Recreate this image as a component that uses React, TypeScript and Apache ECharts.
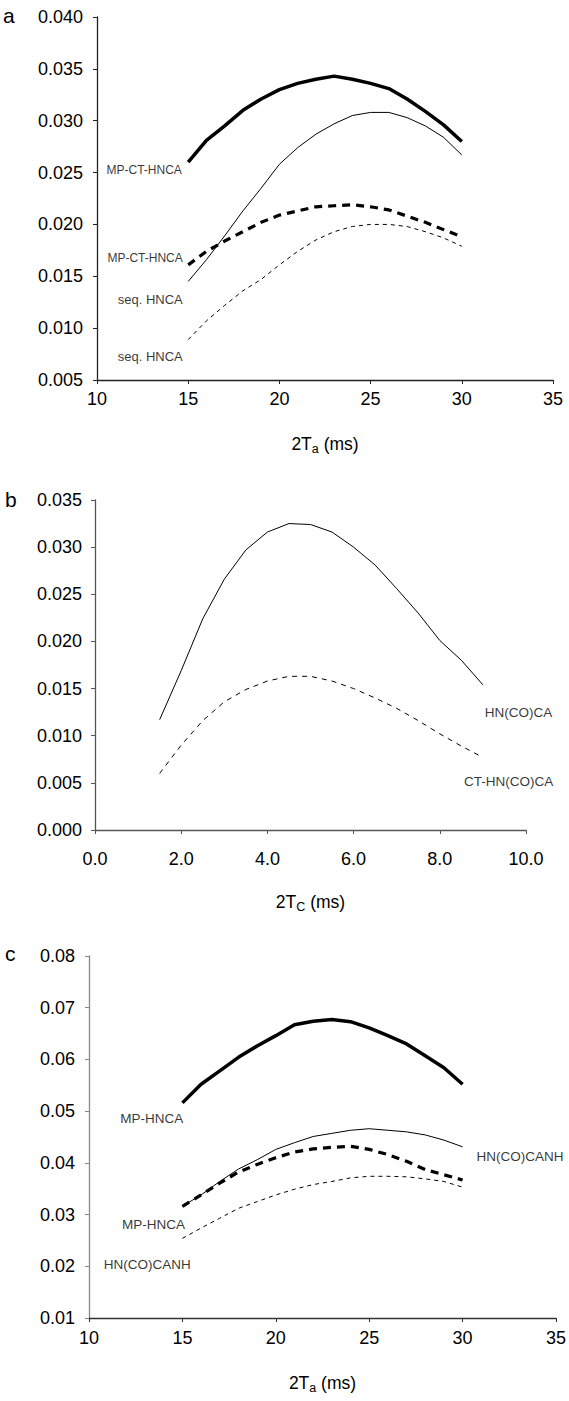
import React, { useEffect, useRef } from "react";
import * as echarts from "echarts";

const FONT = '"Liberation Sans", Arial, Helvetica, sans-serif';

// ---------- Panel a ----------
const aX = [15, 16, 17, 18, 19, 20, 21, 22, 23, 24, 25, 26, 27, 28, 29, 30];
const aMpCtThick = [0.0260, 0.0281, 0.0295, 0.0310, 0.0321, 0.0330, 0.0336, 0.0340, 0.0343, 0.0340, 0.0336, 0.0331, 0.0321, 0.0309, 0.0296, 0.0280];
const aSeqThin = [0.0145, 0.0166, 0.0189, 0.0213, 0.0235, 0.0258, 0.0274, 0.0287, 0.0297, 0.0305, 0.0308, 0.0308, 0.0303, 0.0295, 0.0284, 0.0267];
const aMpCtDashed = [0.0161, 0.0174, 0.0184, 0.0193, 0.0202, 0.0209, 0.0213, 0.0217, 0.0218, 0.0219, 0.0217, 0.0214, 0.0208, 0.0202, 0.0195, 0.0188];
const aSeqDashed = [0.0089, 0.0107, 0.0122, 0.0136, 0.0147, 0.0161, 0.0174, 0.0185, 0.0193, 0.0198, 0.0200, 0.0200, 0.0198, 0.0193, 0.0187, 0.0179];
const aYTicks = { min: 0.005, max: 0.04, interval: 0.005 };
const aXTicks = { min: 10, max: 35, interval: 5 };

// ---------- Panel b ----------
const bX = [1.5, 2.0, 2.5, 3.0, 3.5, 4.0, 4.5, 5.0, 5.5, 6.0, 6.5, 7.0, 7.5, 8.0, 8.5, 9.0];
const bHnCoCa = [0.0117, 0.0169, 0.0224, 0.0266, 0.0297, 0.0316, 0.0325, 0.0324, 0.0316, 0.0300, 0.0281, 0.0256, 0.0230, 0.0201, 0.0180, 0.0154];
const bCtHnCoCa = [0.0060, 0.0090, 0.0116, 0.0136, 0.0149, 0.0158, 0.0163, 0.0163, 0.0158, 0.0150, 0.0140, 0.0129, 0.0116, 0.0102, 0.0089, 0.0077];
const bYTicks = { min: 0, max: 0.035, interval: 0.005 };
const bXTicks = { min: 0, max: 10, interval: 2 };

// ---------- Panel c ----------
const cX = [15, 16, 17, 18, 19, 20, 21, 22, 23, 24, 25, 26, 27, 28, 29, 30];
const cMpThick = [0.0516, 0.0552, 0.0578, 0.0604, 0.0626, 0.0646, 0.0667, 0.0674, 0.0677, 0.0673, 0.0661, 0.0646, 0.0630, 0.0607, 0.0584, 0.0552];
const cHnThin = [0.0316, 0.0338, 0.0364, 0.0388, 0.0406, 0.0426, 0.0439, 0.0451, 0.0457, 0.0463, 0.0466, 0.0463, 0.0460, 0.0454, 0.0444, 0.0431];
const cMpDashed = [0.0316, 0.0338, 0.0361, 0.0382, 0.0397, 0.0410, 0.0421, 0.0427, 0.0430, 0.0432, 0.0426, 0.0416, 0.0403, 0.0387, 0.0377, 0.0367];
const cHnDashed = [0.0254, 0.0274, 0.0293, 0.0312, 0.0325, 0.0338, 0.0349, 0.0358, 0.0364, 0.0371, 0.0374, 0.0374, 0.0373, 0.0369, 0.0364, 0.0353];
const cYTicks = { min: 0.01, max: 0.08, interval: 0.01 };
const cXTicks = { min: 10, max: 35, interval: 5 };

// ---------- Annotations (text, data-anchor) ----------
const aLabels = [
  { text: "MP-CT-HNCA", x: 14.68, y: 0.0252, side: "left", size: 12 },
  { text: "MP-CT-HNCA", x: 14.73, y: 0.0168, side: "left", size: 12 },
  { text: "seq. HNCA", x: 14.73, y: 0.0128, side: "left", size: 13 },
  { text: "seq. HNCA", x: 14.73, y: 0.0073, side: "left", size: 13 },
];
const bLabels = [
  { text: "HN(CO)CA", x: 9.03, y: 0.0125, side: "right", size: 13.5 },
  { text: "CT-HN(CO)CA", x: 8.55, y: 0.0051, side: "right", size: 13.5 },
];
const cLabels = [
  { text: "MP-HNCA", x: 15.07, y: 0.0486, side: "left", size: 13.5 },
  { text: "HN(CO)CANH", x: 30.72, y: 0.0412, side: "right", size: 13.5 },
  { text: "MP-HNCA", x: 15.17, y: 0.0281, side: "left", size: 13.5 },
  { text: "HN(CO)CANH", x: 15.48, y: 0.0203, side: "left", size: 13.5 },
];

const pairs = (xs: number[], ys: number[]) => xs.map((x, i) => [x, ys[i]]);

function lineSeries(idx: number, xs: number[], ys: number[], width: number, type: any) {
  return {
    type: "line",
    xAxisIndex: idx,
    yAxisIndex: idx,
    data: pairs(xs, ys),
    showSymbol: false,
    symbol: "none",
    smooth: false,
    silent: true,
    lineStyle: { color: "#000", width, type },
    z: 3,
  };
}

function labelSeries(idx: number, labels: any[]) {
  return {
    type: "scatter",
    xAxisIndex: idx,
    yAxisIndex: idx,
    silent: true,
    symbolSize: 1,
    itemStyle: { color: "rgba(0,0,0,0)" },
    data: labels.map((l) => ({
      value: [l.x, l.y],
      name: l.text,
      label: {
        show: true,
        position: l.side,
        distance: 0,
        formatter: l.text,
        fontSize: l.size,
        fontFamily: FONT,
        color: "#000",
      },
    })),
  };
}

function xAxis(idx: number, ticks: any, sub: string, gap: number, margin: number, digits: number, lineColor: string) {
  return {
    type: "value",
    gridIndex: idx,
    min: ticks.min,
    max: ticks.max,
    interval: ticks.interval,
    name: `{n|2T}{s|${sub}}{n| (ms)}`,
    nameLocation: "middle",
    nameGap: gap,
    nameTextStyle: {
      color: "#000",
      fontFamily: FONT,
      fontSize: 17,
      rich: {
        n: { fontSize: 17.5, fontFamily: FONT, color: "#000", lineHeight: 22, verticalAlign: "middle" },
        s: { fontSize: 12.5, fontFamily: FONT, color: "#000", lineHeight: 8, verticalAlign: "bottom" },
      },
    },
    axisLine: { show: true, onZero: false, lineStyle: { color: lineColor, width: 1.3 } },
    axisTick: { show: true, inside: false, length: 4, lineStyle: { color: lineColor, width: 1 } },
    splitLine: { show: false },
    axisLabel: {
      margin,
      fontSize: 18,
      fontFamily: FONT,
      color: "#000",
      formatter: (v: number) => v.toFixed(digits),
    },
  };
}

function yAxis(idx: number, ticks: any, margin: number, digits: number, lineColor: string) {
  return {
    type: "value",
    gridIndex: idx,
    min: ticks.min,
    max: ticks.max,
    interval: ticks.interval,
    axisLine: { show: true, onZero: false, lineStyle: { color: lineColor, width: 1.3 } },
    axisTick: { show: true, inside: false, length: 4, lineStyle: { color: lineColor, width: 1 } },
    splitLine: { show: false },
    axisLabel: {
      margin,
      fontSize: 18,
      fontFamily: FONT,
      color: "#000",
      formatter: (v: number) => v.toFixed(digits),
    },
  };
}

export default function App() {
  const ref = useRef<HTMLDivElement>(null);

  useEffect(() => {
    if (!ref.current) return;
    const chart = echarts.init(ref.current, undefined, { renderer: "svg" });
    chart.setOption({
      animation: false,
      backgroundColor: "#fff",
      grid: [
        { left: 97, top: 17, width: 456, height: 363 },
        { left: 95, top: 500, width: 431, height: 330 },
        { left: 89, top: 956, width: 468, height: 362 },
      ],
      xAxis: [
        xAxis(0, aXTicks, "a", 53, 10, 0, "#222"),
        xAxis(1, bXTicks, "C", 61, 20, 1, "#555"),
        xAxis(2, cXTicks, "a", 54, 11, 0, "#333"),
      ],
      yAxis: [
        yAxis(0, aYTicks, 14, 3, "#222"),
        yAxis(1, bYTicks, 13, 3, "#555"),
        yAxis(2, cYTicks, 14, 2, "#888"),
      ],
      graphic: [
        { type: "text", left: 3, top: 5, style: { text: "a", fontSize: 21, fontFamily: FONT, fill: "#000" } },
        { type: "text", left: 5, top: 489, style: { text: "b", fontSize: 21, fontFamily: FONT, fill: "#000" } },
        { type: "text", left: 5, top: 943, style: { text: "c", fontSize: 21, fontFamily: FONT, fill: "#000" } },
      ],
      series: [
        lineSeries(0, aX, aMpCtThick, 3.5, "solid"),
        lineSeries(0, aX, aSeqThin, 1, "solid"),
        lineSeries(0, aX, aMpCtDashed, 3.2, [8, 6]),
        lineSeries(0, aX, aSeqDashed, 1, [4, 4]),
        labelSeries(0, aLabels),
        lineSeries(1, bX, bHnCoCa, 1, "solid"),
        lineSeries(1, bX, bCtHnCoCa, 1, [5, 5]),
        labelSeries(1, bLabels),
        lineSeries(2, cX, cMpThick, 3.5, "solid"),
        lineSeries(2, cX, cHnThin, 1, "solid"),
        lineSeries(2, cX, cMpDashed, 3.2, [8, 6]),
        lineSeries(2, cX, cHnDashed, 1, [4, 4]),
        labelSeries(2, cLabels),
      ],
    });
    return () => chart.dispose();
  }, []);

  return (
    <div
      ref={ref}
      style={{ position: "absolute", left: 0, top: 0, width: 569, height: 1401, background: "#fff" }}
    />
  );
}
